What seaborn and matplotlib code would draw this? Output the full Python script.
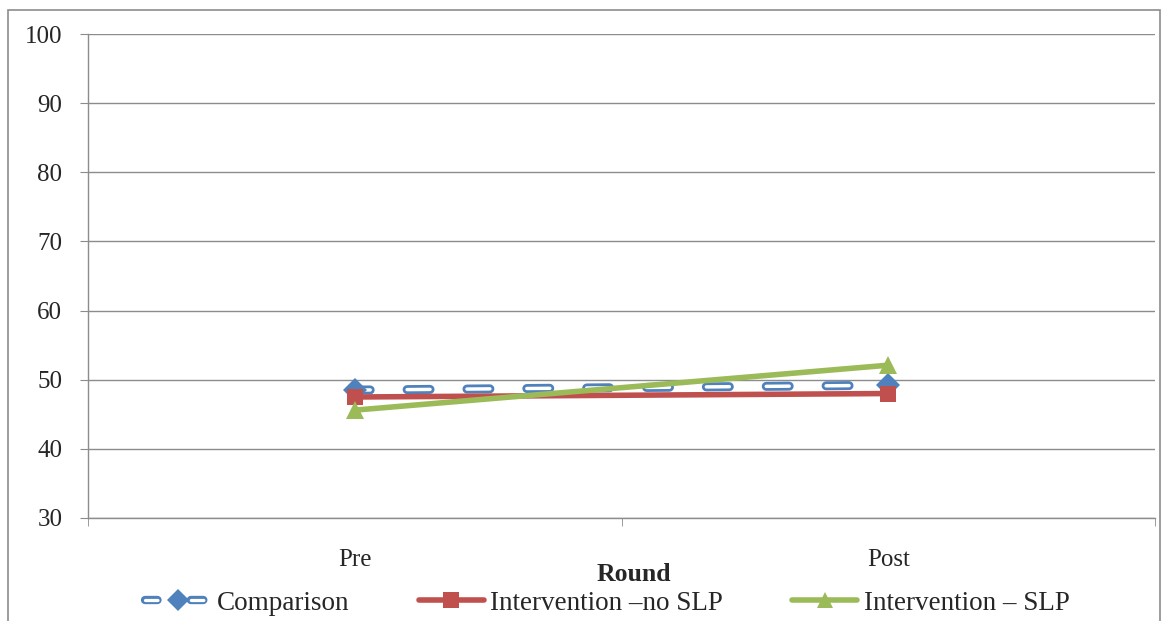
import numpy as np
import pandas as pd
import matplotlib
matplotlib.use("Agg")
import matplotlib.pyplot as plt
import seaborn as sns
from matplotlib.lines import Line2D
from matplotlib.patches import Rectangle
from matplotlib.legend_handler import HandlerTuple

# data
rounds = ["Pre", "Post"]
comparison = [48.5, 49.2]
no_slp = [47.5, 48.0]
slp = [45.6, 52.1]
series_names = ["Comparison", "Intervention \u2013no SLP", "Intervention \u2013 SLP"]
y_ticks = [30, 40, 50, 60, 70, 80, 90, 100]

BLUE = "#4F81BD"
RED = "#C0504D"
GREEN = "#9BBB59"
GRID = "#8c8c8c"

sns.set_style("white")
plt.rcParams["font.family"] = ["Liberation Serif", "DejaVu Serif"]
plt.rcParams["font.size"] = 18

W, H = 1164, 621
fig = plt.figure(figsize=(W / 100, H / 100), dpi=100)
ax = fig.add_axes([88 / W, 1 - 518 / H, (1155 - 88) / W, (518 - 34) / H])

df = pd.DataFrame({"Round": rounds, "Comparison": comparison,
                   "NoSLP": no_slp, "SLP": slp})

# Comparison: hollow rounded dashes (blue outer + white core)
OUT_LW, IN_LW = 6.5, 2.5
dash_pt, gap_pt, off_pt = 16.5, 26.6, 5.4
outer_dash = (off_pt / OUT_LW, (dash_pt / OUT_LW, gap_pt / OUT_LW))
inner_dash = (off_pt / IN_LW, (dash_pt / IN_LW, gap_pt / IN_LW))

sns.lineplot(data=df, x="Round", y="Comparison", ax=ax, sort=False, color=BLUE,
             lw=OUT_LW, linestyle=outer_dash, dash_capstyle="round", zorder=3)
sns.lineplot(data=df, x="Round", y="Comparison", ax=ax, sort=False, color="white",
             lw=IN_LW, linestyle=inner_dash, dash_capstyle="round", zorder=3.1)
sns.lineplot(data=df, x="Round", y="Comparison", ax=ax, sort=False, color=BLUE,
             linestyle="", marker="D", markersize=12.5, markeredgewidth=0, zorder=3.2)

sns.lineplot(data=df, x="Round", y="NoSLP", ax=ax, sort=False, color=RED,
             lw=4, marker="s", markersize=11.5, markeredgewidth=0, zorder=4)
sns.lineplot(data=df, x="Round", y="SLP", ax=ax, sort=False, color=GREEN,
             lw=4, marker="^", markersize=13, markeredgewidth=0, zorder=5)

ax.set_xlim(-0.5, 1.5)
ax.set_ylim(30, 100)
ax.set_yticks(y_ticks)
ax.set_xticks([0, 1])
ax.set_xticklabels(rounds)
ax.set_xticks([-0.5, 0.5, 1.5], minor=True)
ax.yaxis.grid(True, color=GRID, lw=1)
ax.set_axisbelow(True)

for s in ["top", "right"]:
    ax.spines[s].set_visible(False)
for s in ["left", "bottom"]:
    ax.spines[s].set_color(GRID)
    ax.spines[s].set_linewidth(1)

ax.tick_params(axis="y", which="major", left=True, length=6, color=GRID, pad=12.5,
               labelsize=18)
ax.tick_params(axis="x", which="major", bottom=False, length=0, pad=22, labelsize=18)
ax.tick_params(axis="x", which="minor", bottom=True, length=6, color=GRID)

ax.set_ylabel("")
ax.set_xlabel("Round", fontsize=18.5, fontweight="bold")
ax.xaxis.set_label_coords(0.512, -0.092)

# legend
LEG_LW_OUT, LEG_LW_IN = 6.0, 2.3
leg_dash, leg_gap = 9.0, 24.0
h_comp = (Line2D([], [], color=BLUE, lw=LEG_LW_OUT, dash_capstyle="round",
                 linestyle=(0, (leg_dash / LEG_LW_OUT, leg_gap / LEG_LW_OUT))),
          Line2D([], [], color="white", lw=LEG_LW_IN, dash_capstyle="round",
                 linestyle=(0, (leg_dash / LEG_LW_IN, leg_gap / LEG_LW_IN))),
          Line2D([], [], color=BLUE, linestyle="", marker="D", markersize=11,
                 markeredgewidth=0))
h_red = Line2D([], [], color=RED, lw=4, marker="s", markersize=11, markeredgewidth=0)
h_green = Line2D([], [], color=GREEN, lw=4, marker="^", markersize=12, markeredgewidth=0)
fig.legend([h_comp, h_red, h_green], series_names, loc="center",
           bbox_to_anchor=(0.522, 1 - 603 / H), ncol=3, frameon=False,
           handlelength=2.4, handletextpad=0.25, columnspacing=2.55, fontsize=19.5,
           handler_map={tuple: HandlerTuple(ndivide=1, pad=0)})

# outer chart border
fig.patches.append(Rectangle((8 / W, -0.02), (1160 - 8) / W, (H - 10) / H + 0.02,
                             transform=fig.transFigure, fill=False, ec=GRID, lw=1.2))

fig.savefig("out.png", dpi=100)
